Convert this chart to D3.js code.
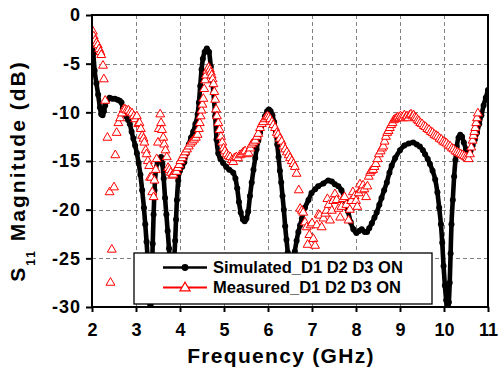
<!DOCTYPE html>
<html>
<head>
<meta charset="utf-8">
<script src="https://cdn.jsdelivr.net/npm/d3@7"></script>
<style>
  html, body { margin: 0; padding: 0; background: #fff; }
  svg { display: block; }
  text { font-family: "Liberation Sans", Arial, sans-serif; font-weight: bold; }
</style>
</head>
<body>
<svg id="chart" width="499" height="370"></svg>
<script>
// ---- data ----
const xTicks = [2, 3, 4, 5, 6, 7, 8, 9, 10, 11];
const yTicks = [-30, -25, -20, -15, -10, -5, 0];
const seriesNames = ["Simulated_D1 D2 D3 ON", "Measured_D1 D2 D3 ON"];
const xLabel = "Frequency (GHz)";

const simFreq = [2.00,2.03,2.06,2.10,2.14,2.18,2.21,2.24,2.27,2.30,2.34,2.40,2.46,2.52,2.58,2.63,2.67,2.70,2.74,2.78,2.82,2.86,2.90,2.94,2.98,3.02,3.06,3.10,3.14,3.18,3.21,3.24,3.27,3.30,3.32,3.34,3.36,3.38,3.40,3.42,3.45,3.49,3.53,3.57,3.60,3.63,3.66,3.69,3.72,3.75,3.78,3.81,3.84,3.87,3.89,3.91,3.93,3.96,4.00,4.05,4.10,4.15,4.20,4.25,4.30,4.35,4.40,4.43,4.46,4.49,4.52,4.56,4.61,4.66,4.70,4.73,4.76,4.80,4.83,4.87,4.92,4.98,5.05,5.12,5.21,5.26,5.30,5.34,5.38,5.43,5.47,5.51,5.55,5.59,5.63,5.67,5.71,5.74,5.78,5.82,5.88,5.93,5.98,6.02,6.06,6.10,6.14,6.18,6.21,6.24,6.27,6.30,6.33,6.36,6.39,6.42,6.45,6.49,6.53,6.57,6.61,6.65,6.69,6.73,6.77,6.84,6.92,6.99,7.07,7.14,7.26,7.37,7.45,7.52,7.60,7.67,7.75,7.82,7.88,7.94,8.01,8.07,8.13,8.20,8.25,8.30,8.36,8.42,8.47,8.53,8.58,8.64,8.70,8.76,8.81,8.89,9.00,9.10,9.20,9.30,9.38,9.45,9.52,9.57,9.63,9.68,9.74,9.80,9.85,9.89,9.93,9.96,9.99,10.02,10.05,10.08,10.11,10.13,10.15,10.17,10.20,10.23,10.26,10.29,10.33,10.37,10.41,10.45,10.50,10.55,10.60,10.65,10.70,10.75,10.80,10.85,10.90,10.95,11.00];
const simDb = [-2.5,-4.0,-5.7,-7.0,-8.2,-9.5,-10.2,-10.3,-9.9,-9.3,-8.8,-8.5,-8.6,-8.6,-8.7,-8.8,-9.0,-9.6,-10.1,-10.4,-10.8,-11.2,-12.0,-12.7,-13.4,-14.2,-15.2,-16.4,-18.0,-19.8,-21.5,-23.3,-25.5,-28.5,-31.0,-30.5,-27.0,-23.5,-20.5,-18.0,-16.0,-15.1,-14.8,-14.6,-15.3,-16.8,-18.8,-20.5,-22.2,-24.0,-26.0,-27.5,-27.0,-25.0,-23.2,-21.0,-19.0,-17.0,-16.0,-15.6,-15.1,-14.2,-13.3,-12.6,-12.0,-11.2,-10.2,-9.0,-7.3,-5.6,-4.5,-3.8,-3.45,-3.8,-5.3,-6.6,-8.0,-10.4,-12.8,-14.2,-14.8,-15.2,-15.6,-15.9,-16.2,-16.8,-17.8,-19.2,-20.3,-21.0,-21.2,-20.9,-20.2,-18.6,-17.2,-15.9,-14.7,-13.8,-12.9,-12.1,-11.1,-10.4,-9.9,-9.7,-9.9,-10.3,-11.0,-12.0,-13.3,-14.6,-16.0,-17.2,-18.6,-20.0,-21.7,-23.1,-24.4,-26.0,-26.8,-26.0,-24.3,-23.2,-22.3,-21.6,-20.9,-19.8,-19.0,-18.3,-17.9,-17.6,-17.3,-17.0,-17.1,-17.4,-17.6,-18.0,-19.0,-20.2,-21.3,-22.0,-22.4,-22.2,-22.0,-22.3,-22.3,-21.9,-21.4,-20.8,-20.3,-19.5,-18.8,-18.0,-17.2,-16.2,-15.5,-14.7,-13.9,-13.4,-13.2,-13.1,-13.3,-13.5,-13.9,-14.3,-14.8,-15.3,-16.0,-16.9,-18.2,-19.8,-21.5,-23.4,-25.8,-27.8,-29.3,-30.5,-29.5,-27.5,-24.5,-21.5,-19.0,-16.6,-14.9,-13.5,-12.6,-12.3,-12.5,-13.1,-13.8,-14.2,-14.0,-13.4,-12.8,-12.1,-11.2,-10.3,-9.3,-8.5,-7.7];

const measFreq = [2.02,2.04,2.07,2.10,2.13,2.16,2.19,2.21,2.25,2.27,2.30,2.35,2.40,2.42,2.45,2.50,2.53,2.56,2.60,2.64,2.68,2.72,2.75,2.79,2.83,2.87,2.91,2.95,2.98,3.02,3.05,3.08,3.11,3.14,3.17,3.19,3.22,3.24,3.27,3.30,3.32,3.35,3.37,3.40,3.42,3.45,3.47,3.50,3.52,3.55,3.57,3.59,3.62,3.64,3.67,3.70,3.73,3.76,3.79,3.82,3.85,3.89,3.92,3.95,3.98,4.01,4.05,4.08,4.12,4.16,4.20,4.24,4.28,4.32,4.36,4.40,4.43,4.45,4.47,4.49,4.51,4.53,4.55,4.57,4.59,4.62,4.65,4.68,4.70,4.72,4.74,4.76,4.78,4.80,4.82,4.84,4.87,4.90,4.93,4.96,4.99,5.02,5.06,5.10,5.14,5.18,5.21,5.24,5.28,5.32,5.36,5.40,5.44,5.48,5.52,5.56,5.60,5.63,5.67,5.71,5.75,5.78,5.82,5.86,5.89,5.93,5.96,5.99,6.02,6.05,6.09,6.12,6.16,6.20,6.23,6.27,6.31,6.35,6.39,6.43,6.47,6.50,6.54,6.58,6.61,6.65,6.70,6.73,6.77,6.80,6.84,6.88,6.90,6.94,6.97,7.00,7.03,7.07,7.11,7.15,7.18,7.22,7.26,7.30,7.33,7.35,7.38,7.41,7.45,7.48,7.52,7.56,7.60,7.64,7.67,7.70,7.74,7.78,7.83,7.86,7.89,7.93,7.97,8.00,8.03,8.06,8.09,8.12,8.16,8.19,8.23,8.26,8.29,8.32,8.35,8.39,8.42,8.45,8.49,8.52,8.56,8.59,8.62,8.65,8.68,8.71,8.74,8.77,8.80,8.83,8.86,8.89,8.92,8.95,8.98,9.01,9.04,9.07,9.10,9.13,9.16,9.19,9.22,9.25,9.28,9.31,9.34,9.37,9.40,9.43,9.46,9.50,9.54,9.58,9.62,9.66,9.70,9.74,9.78,9.82,9.86,9.90,9.94,9.98,10.02,10.06,10.10,10.14,10.18,10.22,10.26,10.30,10.34,10.38,10.42,10.46,10.50,10.53,10.56,10.59,10.62,10.65,10.67,10.69,10.71,10.73,10.75,10.77];
const measDb = [-1.6,-2.1,-2.5,-2.8,-3.0,-3.4,-3.7,-4.0,-5.1,-6.5,-8.7,-12.5,-18.1,-27.4,-24.0,-17.6,-14.3,-12.0,-11.0,-10.5,-10.0,-9.6,-9.6,-9.7,-9.7,-9.9,-10.0,-10.3,-10.6,-10.3,-11.1,-11.0,-11.6,-12.3,-12.6,-13.0,-13.8,-14.2,-14.9,-15.4,-16.6,-16.6,-18.1,-18.6,-16.9,-15.8,-14.7,-13.0,-11.6,-10.1,-11.0,-11.7,-12.5,-13.2,-13.8,-14.5,-15.6,-15.8,-16.1,-16.4,-16.3,-16.0,-16.0,-15.6,-15.3,-14.9,-14.6,-14.3,-14.0,-13.7,-13.4,-13.1,-12.9,-12.7,-12.5,-12.2,-11.6,-11.0,-10.3,-9.7,-9.1,-8.5,-7.5,-6.6,-6.1,-5.6,-5.3,-5.5,-5.8,-6.1,-6.5,-7.0,-7.8,-8.6,-9.6,-10.3,-11.0,-11.7,-12.4,-13.0,-13.6,-13.9,-14.2,-14.4,-14.5,-14.8,-15.0,-14.6,-14.5,-14.6,-14.3,-14.2,-14.0,-13.9,-14.2,-14.1,-13.6,-13.2,-13.0,-12.8,-12.4,-12.1,-11.5,-11.1,-10.9,-10.6,-10.4,-10.3,-10.4,-10.6,-10.9,-11.2,-11.5,-12.0,-12.2,-12.6,-12.9,-13.4,-13.7,-14.0,-14.3,-14.6,-14.9,-15.2,-15.5,-16.2,-17.9,-19.8,-20.0,-20.2,-21.2,-21.7,-23.5,-22.5,-21.5,-21.3,-22.9,-23.6,-21.5,-20.4,-20.5,-21.7,-20.8,-20.3,-20.0,-18.8,-19.4,-21.0,-20.0,-19.0,-18.3,-18.9,-19.8,-20.7,-19.6,-18.8,-18.6,-19.4,-21.0,-19.9,-19.0,-18.1,-18.5,-19.0,-19.6,-18.2,-17.3,-17.9,-17.4,-17.8,-18.6,-17.5,-16.5,-16.1,-15.9,-15.8,-15.5,-15.2,-14.7,-14.2,-13.9,-13.6,-13.4,-12.9,-12.4,-12.0,-11.8,-11.5,-11.2,-11.0,-10.7,-10.6,-10.5,-10.4,-10.5,-10.3,-10.4,-10.5,-10.2,-10.4,-10.3,-10.5,-10.2,-10.1,-10.3,-10.2,-10.4,-10.5,-10.7,-10.8,-11.0,-11.1,-11.3,-11.4,-11.6,-11.7,-11.9,-12.0,-12.2,-12.3,-12.4,-12.6,-12.7,-12.9,-13.0,-13.1,-13.3,-13.4,-13.6,-13.7,-13.9,-14.0,-14.1,-14.2,-14.3,-14.4,-14.5,-14.6,-14.7,-14.2,-13.5,-12.8,-12.3,-11.9,-11.5,-11.0,-10.5,-10.0];

// ---- layout ----
const L = 92, R = 488, T = 15, B = 307;
const svg = d3.select("#chart");
const x = d3.scaleLinear().domain([2, 11]).range([L, R]);
const y = d3.scaleLinear().domain([-30, 0]).range([B, T]);

const sim = simFreq.map((f, i) => [f, simDb[i]]);
const meas = measFreq.map((f, i) => [f, measDb[i]]);

svg.append("defs").append("clipPath").attr("id", "clip")
  .append("rect").attr("x", L).attr("y", T).attr("width", R - L).attr("height", B - T);

// grid
const grid = svg.append("g").attr("stroke", "#808080").attr("stroke-width", 1).attr("stroke-dasharray", "4,3");
grid.selectAll("line.v").data(xTicks.slice(1, -1)).join("line")
  .attr("x1", d => Math.round(x(d)) + 0.5).attr("x2", d => Math.round(x(d)) + 0.5)
  .attr("y1", T).attr("y2", B);
grid.selectAll("line.h").data(yTicks.slice(1, -1)).join("line")
  .attr("y1", d => Math.round(y(d)) + 0.5).attr("y2", d => Math.round(y(d)) + 0.5)
  .attr("x1", L).attr("x2", R);

// series
const plot = svg.append("g").attr("clip-path", "url(#clip)");
const line = d3.line().x(d => x(d[0])).y(d => y(d[1])).curve(d3.curveMonotoneX);

plot.append("path").datum(sim).attr("d", line)
  .attr("fill", "none").attr("stroke", "#000").attr("stroke-width", 4.6);
plot.selectAll("circle.sim").data(sim).join("circle")
  .attr("cx", d => x(d[0])).attr("cy", d => y(d[1])).attr("r", 3).attr("fill", "#000");

const tri = d3.symbol().type(d3.symbolTriangle).size(34);
plot.selectAll("path.meas").data(meas).join("path")
  .attr("d", tri)
  .attr("transform", d => `translate(${x(d[0])},${y(d[1]) + 1})`)
  .attr("fill", "#fff").attr("stroke", "#f00").attr("stroke-width", 1);

// axes
const yAxis = d3.axisLeft(y).tickValues(yTicks).tickFormat(d => String(d))
  .tickSizeInner(6).tickSizeOuter(0).tickPadding(5);
const gy = svg.append("g").attr("transform", `translate(${L},0)`).call(yAxis);
const xAxis = d3.axisBottom(x).tickValues(xTicks).tickFormat(d => String(d))
  .tickSizeInner(5).tickSizeOuter(0).tickPadding(11);
const gx = svg.append("g").attr("transform", `translate(0,${B})`).call(xAxis);
[gx, gy].forEach(g => {
  g.select(".domain").remove();
  g.selectAll(".tick line").attr("stroke", "#000").attr("stroke-width", 2);
  g.selectAll(".tick text").attr("fill", "#000")
    .style("font-size", "18px").style("font-family", "'Liberation Sans', Arial, sans-serif")
    .style("font-weight", "bold");
});
gy.selectAll(".tick text").style("letter-spacing", "1px");

// frame
svg.append("rect").attr("x", L).attr("y", T).attr("width", R - L).attr("height", B - T)
  .attr("fill", "none").attr("stroke", "#000").attr("stroke-width", 2);

// axis titles
svg.append("text").attr("x", 281).attr("y", 363).attr("text-anchor", "middle")
  .style("font-size", "21px").style("letter-spacing", "1.3px").text(xLabel);

const yt = svg.append("text").attr("transform", "translate(25,171) rotate(-90)")
  .attr("text-anchor", "middle").style("font-size", "21px").style("letter-spacing", "2px");
yt.append("tspan").text("S");
yt.append("tspan").attr("dy", 10).style("font-size", "12px").text("11");
yt.append("tspan").attr("dy", -10).text(" Magnitude (dB)");

// legend
const lg = svg.append("g");
lg.append("rect").attr("x", 134).attr("y", 253).attr("width", 298).attr("height", 51)
  .attr("fill", "#fff").attr("stroke", "#000").attr("stroke-width", 1.3);
const rows = [267.5, 287.5];
lg.append("line").attr("x1", 163).attr("x2", 207).attr("y1", rows[0]).attr("y2", rows[0])
  .attr("stroke", "#000").attr("stroke-width", 2.5);
lg.append("circle").attr("cx", 185).attr("cy", rows[0]).attr("r", 3.4).attr("fill", "#000");
lg.append("line").attr("x1", 163).attr("x2", 207).attr("y1", rows[1]).attr("y2", rows[1])
  .attr("stroke", "#f00").attr("stroke-width", 2);
lg.append("path").attr("d", d3.symbol().type(d3.symbolTriangle).size(45))
  .attr("transform", `translate(185,${rows[1] + 0.5})`)
  .attr("fill", "#fff").attr("stroke", "#f00").attr("stroke-width", 1.2);
seriesNames.forEach((n, i) => {
  lg.append("text").attr("x", 213).attr("y", rows[i]).attr("dy", "0.36em")
    .style("font-size", "16.5px").text(n);
});
</script>
</body>
</html>
